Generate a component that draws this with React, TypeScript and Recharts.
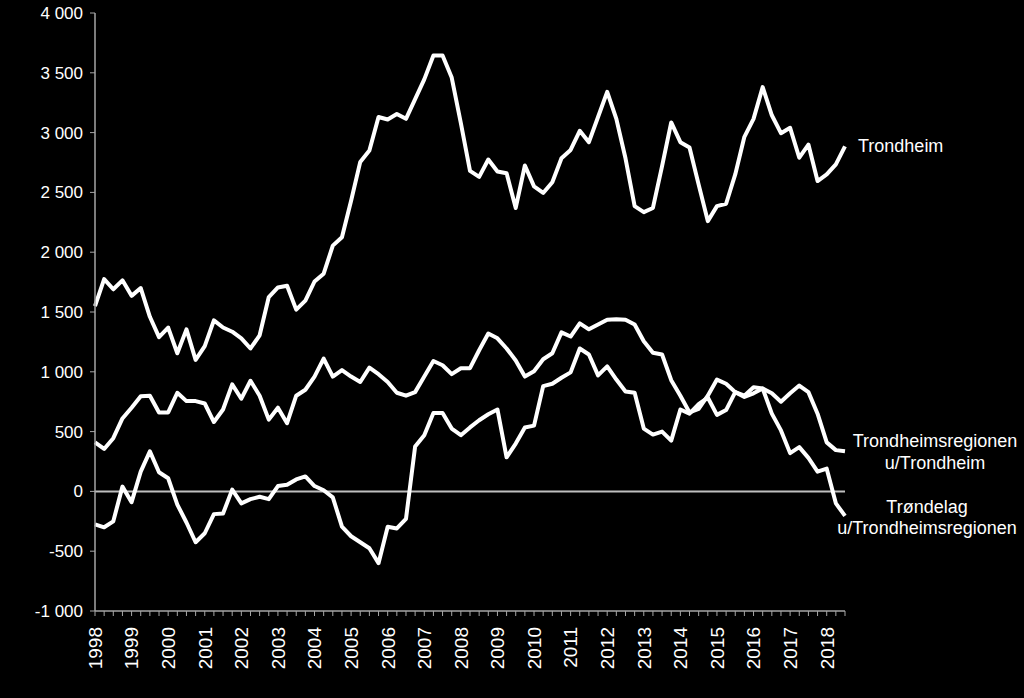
import React from "react"
import { LineChart, Line, XAxis, YAxis, ReferenceLine } from "recharts"

// quarterly, 1998K1 - 2018K3
const years = [1998, 1999, 2000, 2001, 2002, 2003, 2004, 2005, 2006, 2007, 2008, 2009, 2010, 2011, 2012, 2013, 2014, 2015, 2016, 2017, 2018]
const quarters = years.flatMap((y) => [1, 2, 3, 4].map((q) => `${y}K${q}`)).slice(0, 83)

const yTicks = [-1000, -500, 0, 500, 1000, 1500, 2000, 2500, 3000, 3500, 4000]

const trondheim = [
    1550, 1775, 1690, 1765, 1635, 1700, 1460, 1290, 1370, 1155,
    1355, 1100, 1215, 1430, 1370, 1335, 1280, 1195, 1305, 1625,
    1705, 1720, 1520, 1595, 1755, 1820, 2055, 2125, 2430, 2755,
    2850, 3130, 3110, 3155, 3115, 3280, 3445, 3645, 3645, 3460,
    3080, 2680, 2630, 2775, 2675, 2660, 2370, 2725, 2550, 2495,
    2585, 2785, 2855, 3015, 2920, 3130, 3340, 3115, 2785, 2385,
    2335, 2370, 2720, 3085, 2920, 2875, 2565, 2260, 2385, 2405,
    2650, 2965, 3115, 3380, 3145, 2995, 3040, 2790, 2900, 2595,
    2650, 2735, 2885,
]

const regionen = [
    410, 355, 445, 610, 700, 795, 800, 660, 660, 825,
    755, 755, 735, 580, 685, 895, 775, 925, 800, 600,
    700, 570, 800, 850, 960, 1110, 960, 1015, 960, 915,
    1035, 980, 915, 825, 800, 830, 960, 1090, 1055, 980,
    1030, 1030, 1180, 1320, 1280, 1195, 1095, 960, 1005, 1105,
    1155, 1330, 1295, 1405, 1355, 1395, 1435, 1440, 1435, 1395,
    1255, 1160, 1145, 930, 800, 660, 690, 800, 935, 900,
    830, 790, 820, 860, 820, 750, 820, 885, 830, 650,
    410, 345, 335,
]

const trondelag = [
    -275, -300, -250, 40, -90, 165, 335, 160, 110, -110,
    -260, -425, -350, -190, -185, 15, -100, -65, -45, -65,
    45, 55, 100, 125, 45, 10, -50, -295, -375, -425,
    -475, -600, -295, -310, -230, 375, 470, 655, 655, 525,
    470, 535, 595, 645, 685, 285, 400, 535, 550, 880,
    900, 950, 995, 1195, 1145, 970, 1045, 935, 835, 825,
    525, 475, 500, 425, 685, 650, 730, 785, 640, 680,
    830, 800, 870, 860, 650, 510, 320, 370, 280, 165,
    190, -100, -205,
]

const data = quarters.map((q, i) => ({
    q,
    trondheim: trondheim[i],
    regionen: regionen[i],
    trondelag: trondelag[i],
}))

const LAST = quarters.length - 1
const FONT = "'Liberation Sans', Arial, sans-serif"
const AXIS = "#a6a6a6"

const fmt = (v: number) => {
    const s = Math.abs(v).toString().replace(/\B(?=(\d{3})+(?!\d))/g, " ")
    return v < 0 ? "-" + s : s
}

const YearTick = ({ x, y, payload }: any) => {
    const v: string = payload.value
    if (!v.endsWith("K1")) return <g />
    return (
        <text
            x={x}
            y={y}
            dy="0.36em"
            transform={`rotate(-90, ${x}, ${y})`}
            textAnchor="end"
            fill="#fff"
            fontSize={19}
            fontFamily={FONT}
        >
            {v.slice(0, 4)}
        </text>
    )
}

// text at the end of a line
const endLabel = (lines: string[], dx: number, anchor: string, dy0: number, gap: number) =>
    (props: any) => {
        if (props.index !== LAST) return <g />
        const tx = props.x + dx
        return (
            <text x={tx} y={props.y + dy0} textAnchor={anchor} fill="#fff" fontSize={18} fontFamily={FONT}>
                {lines.map((l, k) => (
                    <tspan key={k} x={tx} dy={k === 0 ? 0 : gap}>{l}</tspan>
                ))}
            </text>
        )
    }

export default function App() {
    return (
        <div style={{ position: "absolute", left: 0, top: 0, width: 1024, height: 698, background: "#000" }}>
            <LineChart
                width={1024}
                height={698}
                data={data}
                margin={{ top: 13, right: 179, bottom: 0, left: 0 }}
            >
                <XAxis
                    dataKey="q"
                    interval={0}
                    height={87}
                    tick={<YearTick />}
                    tickSize={5}
                    tickMargin={11}
                    stroke={AXIS}
                    tickLine={{ stroke: AXIS }}
                    axisLine={{ stroke: AXIS, strokeWidth: 1.5 }}
                />
                <YAxis
                    width={95}
                    domain={[-1000, 4000]}
                    ticks={yTicks}
                    interval={0}
                    tickFormatter={fmt}
                    tickSize={5}
                    tickMargin={7}
                    tick={{ fill: "#fff", fontSize: 17, fontFamily: FONT }}
                    tickLine={{ stroke: AXIS }}
                    axisLine={{ stroke: AXIS, strokeWidth: 1.5 }}
                />
                <ReferenceLine y={0} stroke="#bfbfbf" strokeWidth={2} />
                <Line
                    dataKey="trondheim"
                    stroke="#fff"
                    strokeWidth={4}
                    strokeLinejoin="round"
                    dot={false}
                    isAnimationActive={false}
                    label={endLabel(["Trondheim"], 13, "start", 6, 0)}
                />
                <Line
                    dataKey="regionen"
                    stroke="#fff"
                    strokeWidth={4}
                    strokeLinejoin="round"
                    dot={false}
                    isAnimationActive={false}
                    label={endLabel(["Trondheimsregionen", "u/Trondheim"], 90, "middle", -4, 22)}
                />
                <Line
                    dataKey="trondelag"
                    stroke="#fff"
                    strokeWidth={4}
                    strokeLinejoin="round"
                    dot={false}
                    isAnimationActive={false}
                    label={endLabel(["Trøndelag", "u/Trondheimsregionen"], 82, "middle", -3, 21)}
                />
            </LineChart>
        </div>
    )
}
